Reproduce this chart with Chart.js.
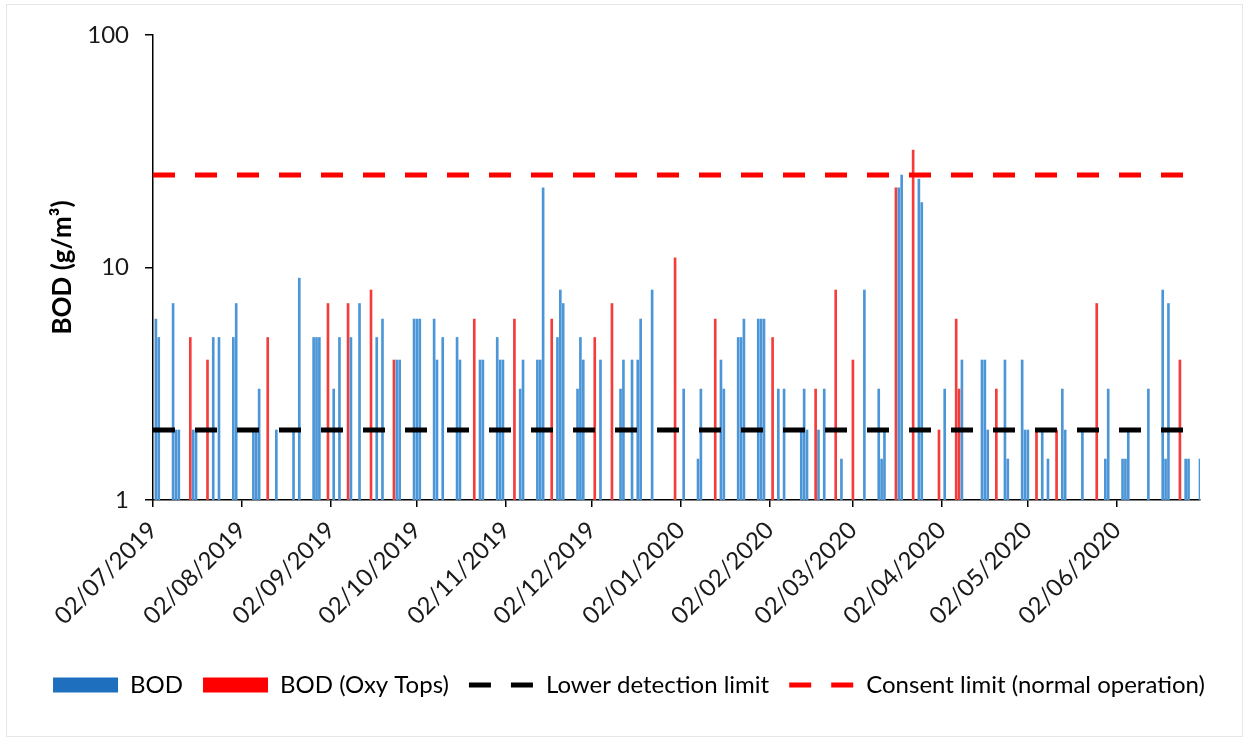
<!DOCTYPE html>
<html>
<head>
<meta charset="utf-8">
<title>BOD</title>
<script src="https://cdn.jsdelivr.net/npm/chart.js@4.4.1/dist/chart.umd.min.js"></script>
<style>
  html, body { margin: 0; padding: 0; background: #fff; }
  #wrap { position: relative; width: 1248px; height: 742px; }
  #frame { position: absolute; left: 6px; top: 4px; right: 5px; bottom: 5px; border: 1px solid #e6e6e6; pointer-events: none; }
</style>
</head>
<body>
<div id="wrap">
  <canvas id="bodChart" width="1248" height="742"></canvas>
  <div id="frame"></div>
</div>
<script>
// one category per day, 02/07/2019 .. 01/07/2020
const firstDay = new Date(2019, 6, 2);
const dayCount = 366;

const monthTicks = ['02/07/2019', '02/08/2019', '02/09/2019', '02/10/2019', '02/11/2019', '02/12/2019',
  '02/01/2020', '02/02/2020', '02/03/2020', '02/04/2020', '02/05/2020', '02/06/2020'];
const yTicks = [1, 10, 100];

// sample days (offset from 02/07/2019) and values in g/m3
const bodDays = [1, 2, 7, 8, 9, 14, 15, 21, 23, 28, 29, 35, 36, 37, 43, 49, 51, 56, 57, 58,
  63, 65, 69, 72, 78, 80, 85, 86, 91, 92, 93, 98, 99, 101, 106, 107, 114, 115, 120, 121,
  122, 128, 129, 134, 135, 136, 141, 142, 143, 148, 149, 150, 156, 163, 164, 167, 169, 170, 174, 185,
  190, 191, 198, 199, 204, 205, 206, 211, 212, 213, 218, 220, 226, 227, 228, 232, 234, 240, 248, 253,
  254, 255, 260, 261, 267, 268, 276, 282, 289, 290, 291, 297, 298, 303, 304, 305, 310, 312, 317, 318,
  324, 332, 333, 338, 339, 340, 347, 352, 353, 354, 360, 361, 365];
const bodValues = [6, 5, 7, 2, 2, 2, 2, 5, 5, 5, 7, 2, 2, 3, 2, 2, 9, 5, 5, 5,
  3, 5, 5, 7, 5, 6, 4, 4, 6, 6, 6, 6, 4, 5, 5, 4, 4, 4, 5, 4,
  4, 3, 4, 4, 4, 22, 5, 8, 7, 3, 5, 4, 4, 3, 4, 4, 4, 6, 8, 3,
  1.5, 3, 4, 3, 5, 5, 6, 6, 6, 6, 3, 3, 2, 3, 2, 2, 3, 1.5, 8, 3,
  1.5, 2, 22, 25, 24, 19, 3, 4, 4, 4, 2, 4, 1.5, 4, 2, 2, 2, 1.5, 3, 2,
  2, 1.5, 3, 1.5, 1.5, 2, 3, 8, 1.5, 7, 1.5, 1.5, 1.5];

const oxyDays = [13, 19, 40, 61, 68, 76, 84, 112, 126, 139, 154, 160, 182, 196, 216, 231, 238, 244,
  259, 265, 274, 280, 281, 294, 308, 315, 329, 358];
const oxyValues = [5, 4, 5, 7, 7, 8, 4, 6, 6, 6, 5, 7, 11, 6, 5, 3, 8, 4,
  22, 32, 2, 6, 3, 3, 2, 2, 7, 4];

const lowerLimit = 2;
const consentLimit = 25;

const pad2 = (n) => String(n).padStart(2, '0');
const categories = [];
for (let i = 0; i < dayCount; i++) {
  const d = new Date(firstDay.getFullYear(), firstDay.getMonth(), firstDay.getDate() + i);
  categories.push(pad2(d.getDate()) + '/' + pad2(d.getMonth() + 1) + '/' + d.getFullYear());
}

const toDaily = (days, values) => {
  const series = categories.map(() => null);
  days.forEach((day, i) => { series[day] = values[i]; });
  return series;
};

const font = 'Lato, "Open Sans", sans-serif';
const textColor = '#1a1a1a';

const legendStyles = [
  { pointStyle: 'rect', fillStyle: '#1f6fbf', strokeStyle: '#1f6fbf', lineWidth: 0 },
  { pointStyle: 'rect', fillStyle: '#ff0000', strokeStyle: '#ff0000', lineWidth: 0 },
  { pointStyle: 'line', fillStyle: '#000', strokeStyle: '#000', lineWidth: 5, lineDash: [22, 20] },
  { pointStyle: 'line', fillStyle: '#ff0000', strokeStyle: '#ff0000', lineWidth: 5, lineDash: [22, 20] },
];

new Chart(document.getElementById('bodChart'), {
  type: 'bar',
  data: {
    labels: categories,
    datasets: [
      {
        label: 'BOD',
        data: toDaily(bodDays, bodValues),
        backgroundColor: '#4c96d7',
        barThickness: 2,
        grouped: false,
        order: 2,
      },
      {
        label: 'BOD (Oxy Tops)',
        data: toDaily(oxyDays, oxyValues),
        backgroundColor: '#f43c3c',
        barThickness: 2,
        grouped: false,
        order: 2,
      },
      {
        type: 'line',
        label: 'Lower detection limit',
        data: categories.map(() => lowerLimit),
        borderColor: '#000',
        borderWidth: 5,
        borderDash: [22, 20],
        pointRadius: 0,
        fill: false,
        order: 1,
      },
      {
        type: 'line',
        label: 'Consent limit (normal operation)',
        data: categories.map(() => consentLimit),
        borderColor: '#ff0000',
        borderWidth: 5,
        borderDash: [22, 20],
        pointRadius: 0,
        fill: false,
        order: 1,
      },
    ],
  },
  options: {
    responsive: false,
    animation: false,
    layout: { padding: { left: 20, right: 10, top: 35, bottom: 35 } },
    plugins: {
      tooltip: { enabled: false },
      legend: {
        position: 'bottom',
        labels: {
          usePointStyle: true,
          pointStyleWidth: 65,
          boxHeight: 15,
          padding: 20,
          color: textColor,
          font: { family: font, size: 24 },
          generateLabels: (chart) => chart.data.datasets.map((ds, i) => ({
            text: ds.label,
            datasetIndex: i,
            hidden: false,
            ...legendStyles[i],
          })),
        },
      },
    },
    scales: {
      x: {
        type: 'category',
        offset: false,
        grid: { drawOnChartArea: false, drawTicks: true, tickLength: 7, color: '#000', lineWidth: 1.5, offset: false },
        border: { color: '#000', width: 1.5 },
        ticks: {
          autoSkip: false,
          minRotation: 45,
          maxRotation: 45,
          padding: 9,
          color: textColor,
          font: { family: font, size: 24 },
        },
        afterBuildTicks: (axis) => {
          axis.ticks = axis.ticks.filter((t) => monthTicks.includes(categories[t.value]));
        },
        afterFit: (axis) => { axis.height = 153; },
      },
      y: {
        type: 'logarithmic',
        min: 1,
        max: 100,
        afterBuildTicks: (axis) => {
          axis.ticks = yTicks.map((v) => ({ value: v }));
        },
        grid: { drawOnChartArea: false, tickLength: 8, color: '#000', lineWidth: 1.5 },
        border: { color: '#000', width: 1.5 },
        ticks: {
          callback: (v) => String(v),
          padding: 16,
          color: textColor,
          font: { family: font, size: 24 },
        },
        title: {
          display: true,
          text: 'BOD (g/m³)',
          color: '#000',
          font: { family: font, size: 26, weight: 'bold' },
          padding: { top: 27, bottom: 4 },
        },
        afterFit: (axis) => { axis.width = 133; },
      },
      yRight: {
        position: 'right',
        display: true,
        grid: { display: false },
        border: { display: false },
        ticks: { display: false },
        afterFit: (axis) => { axis.width = 38; },
      },
    },
  },
});
</script>
</body>
</html>
